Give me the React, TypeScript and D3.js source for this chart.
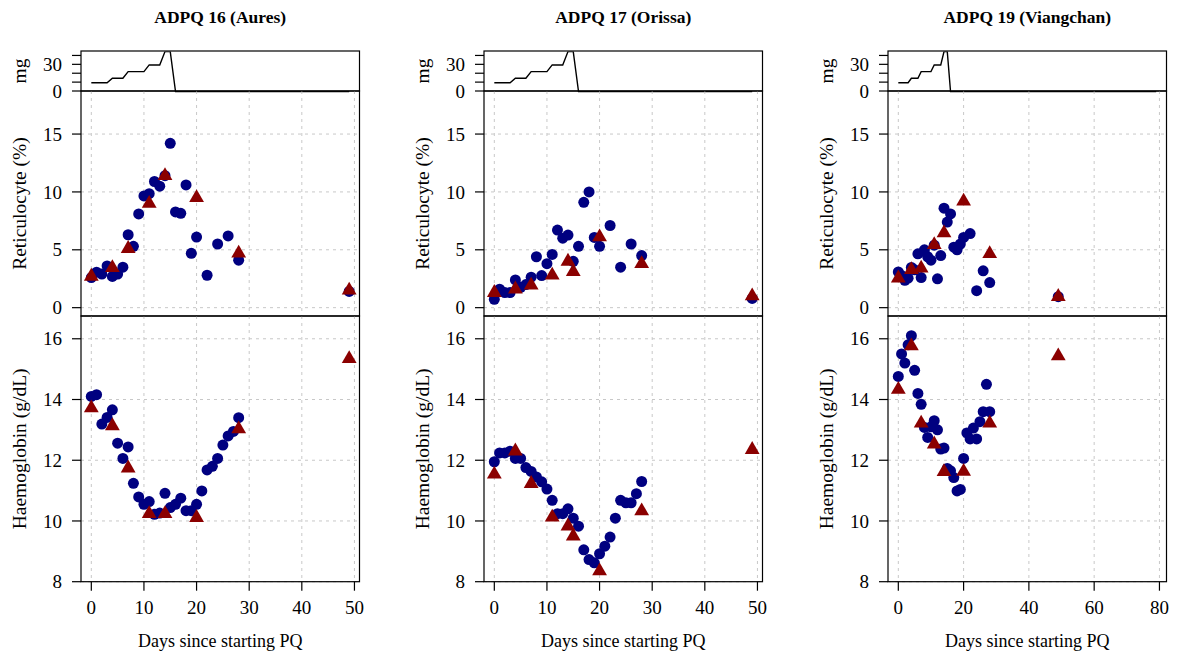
import React from "react";
import * as d3 from "d3";

// ---------- data ----------
const panelTitles = ["ADPQ 16 (Aures)", "ADPQ 17 (Orissa)", "ADPQ 19 (Viangchan)"];
const panelXMax = [49, 49, 79];
const panelXTicks = [
  [0, 10, 20, 30, 40, 50],
  [0, 10, 20, 30, 40, 50],
  [0, 20, 40, 60, 80],
];

// primaquine dose schedule (mg) by day
const doseDays = [0, 1, 2, 3, 4, 5, 6, 7, 8, 9, 10, 11, 12, 13, 14, 15, 16];
const doseMg = [10, 10, 10, 10, 15, 15, 15, 22.5, 22.5, 22.5, 22.5, 30, 30, 30, 45, 45, 0];
const doseTicks = [0, 10, 20, 30, 40];
const doseTickLabels = ["0", "", "", "30", ""];

const reticTicks = [0, 5, 10, 15];
const hbTicks = [8, 10, 12, 14, 16];

// ADPQ 16
const p1RetDays = [0, 1, 2, 3, 4, 5, 6, 7, 8, 9, 10, 11, 12, 13, 14, 15, 16, 17, 18, 19, 20, 22, 24, 26, 28, 49];
const p1RetVals = [2.6, 3.07, 2.9, 3.6, 2.7, 2.9, 3.5, 6.3, 5.3, 8.1, 9.65, 9.85, 10.9, 10.5, 11.4, 14.2, 8.27, 8.15, 10.6, 4.7, 6.1, 2.8, 5.5, 6.2, 4.1, 1.4];
const p1RetTriDays = [0, 4, 7, 11, 14, 20, 28, 49];
const p1RetTriVals = [2.7, 3.45, 5.1, 9.0, 11.4, 9.5, 4.7, 1.5];
const p1HbDays = [0, 1, 2, 3, 4, 5, 6, 7, 8, 9, 10, 11, 12, 13, 14, 15, 16, 17, 18, 19, 20, 21, 22, 23, 24, 25, 26, 27, 28];
const p1HbVals = [14.1, 14.16, 13.19, 13.41, 13.66, 12.56, 12.06, 12.44, 11.24, 10.79, 10.55, 10.64, 10.22, 10.26, 10.91, 10.44, 10.55, 10.75, 10.34, 10.34, 10.55, 10.99, 11.68, 11.8, 12.06, 12.5, 12.8, 12.95, 13.4];
const p1HbTriDays = [0, 4, 7, 11, 14, 20, 28, 49];
const p1HbTriVals = [13.72, 13.13, 11.74, 10.24, 10.24, 10.11, 13.03, 15.34];

// ADPQ 17
const p2RetDays = [0, 1, 2, 3, 4, 5, 6, 7, 8, 9, 10, 11, 12, 13, 14, 15, 16, 17, 18, 19, 20, 22, 24, 26, 28, 49];
const p2RetVals = [0.72, 1.6, 1.3, 1.3, 2.4, 1.76, 2.0, 2.63, 4.4, 2.77, 3.8, 4.6, 6.7, 6.0, 6.27, 4.0, 5.3, 9.1, 10.0, 6.07, 5.3, 7.1, 3.5, 5.5, 4.5, 0.8];
const p2RetTriDays = [0, 4, 7, 11, 14, 15, 20, 28, 49];
const p2RetTriVals = [1.3, 1.6, 1.94, 2.8, 4.0, 3.1, 6.1, 3.8, 1.0];
const p2HbDays = [0, 1, 2, 3, 4, 5, 6, 7, 8, 9, 10, 11, 12, 13, 14, 15, 16, 17, 18, 19, 20, 21, 22, 23, 24, 25, 26, 27, 28];
const p2HbVals = [11.95, 12.24, 12.24, 12.3, 12.06, 12.06, 11.76, 11.63, 11.45, 11.29, 11.05, 10.68, 10.24, 10.24, 10.4, 10.09, 9.83, 9.05, 8.73, 8.62, 8.92, 9.17, 9.47, 10.09, 10.68, 10.6, 10.6, 10.9, 11.3];
const p2HbTriDays = [0, 4, 7, 11, 14, 15, 20, 28, 49];
const p2HbTriVals = [11.54, 12.3, 11.23, 10.12, 9.83, 9.5, 8.35, 10.33, 12.35];

// ADPQ 19
const p3RetDays = [0, 1, 2, 3, 4, 5, 6, 7, 8, 9, 10, 11, 12, 13, 14, 15, 16, 17, 18, 19, 20, 22, 24, 26, 28, 49];
const p3RetVals = [3.09, 2.77, 2.37, 2.55, 3.47, 3.27, 4.65, 2.6, 5.0, 4.4, 4.1, 5.4, 2.49, 4.5, 8.6, 7.4, 8.1, 5.23, 5.0, 5.5, 6.07, 6.4, 1.47, 3.18, 2.17, 0.95];
const p3RetTriDays = [0, 4, 7, 11, 14, 20, 28, 49];
const p3RetTriVals = [2.55, 3.27, 3.4, 5.43, 6.45, 9.2, 4.65, 0.95];
const p3HbDays = [0, 1, 2, 3, 4, 5, 6, 7, 8, 9, 10, 11, 12, 13, 14, 15, 16, 17, 18, 19, 20, 21, 22, 23, 24, 25, 26, 27, 28];
const p3HbVals = [14.76, 15.5, 15.2, 15.8, 16.1, 14.96, 14.2, 13.84, 13.08, 12.75, 13.1, 13.3, 13.0, 12.37, 12.4, 11.73, 11.65, 11.43, 10.99, 11.04, 12.06, 12.9, 12.7, 13.06, 12.7, 13.27, 13.6, 14.5, 13.6];
const p3HbTriDays = [0, 4, 7, 11, 14, 20, 28, 49];
const p3HbTriVals = [14.33, 15.76, 13.22, 12.53, 11.62, 11.63, 13.22, 15.43];

const panels = [
  { retD: p1RetDays, retV: p1RetVals, retTD: p1RetTriDays, retTV: p1RetTriVals, hbD: p1HbDays, hbV: p1HbVals, hbTD: p1HbTriDays, hbTV: p1HbTriVals },
  { retD: p2RetDays, retV: p2RetVals, retTD: p2RetTriDays, retTV: p2RetTriVals, hbD: p2HbDays, hbV: p2HbVals, hbTD: p2HbTriDays, hbTV: p2HbTriVals },
  { retD: p3RetDays, retV: p3RetVals, retTD: p3RetTriDays, retTV: p3RetTriVals, hbD: p3HbDays, hbV: p3HbVals, hbTD: p3HbTriDays, hbTV: p3HbTriVals },
];

// ---------- layout ----------
const W = 1177;
const H = 657;
const lefts = [81, 484, 888];
const boxW = 278.5;
const doseTop = 51;
const doseBot = 91;
const retBot = 316;
const hbBot = 581.7;

const FONT = "'Liberation Serif', 'Times New Roman', serif";
const NAVY = "#000080";
const DARKRED = "#8B0000";
const GRID = "#c8c8c8";
const TICK_FS = 19;
const LAB_FS = 19.5;

const triPath = d3.symbol().type(d3.symbolTriangle).size(95)() as string;

function Panel({ idx }: { idx: number }) {
  const p = panels[idx];
  const L = lefts[idx];
  const R = L + boxW;
  const xMax = panelXMax[idx];
  const pad = xMax * 0.04;
  const x = d3.scaleLinear().domain([-pad, xMax + pad]).range([L, R]);
  const yDose = d3.scaleLinear().domain([0, 45]).range([doseBot, doseTop]);
  const yRet = d3.scaleLinear().domain([-0.72, 18.72]).range([retBot, doseBot]);
  const yHb = d3.scaleLinear().domain([8, 16.75]).range([hbBot, retBot]);
  const ticks = panelXTicks[idx];

  const dDays = [...doseDays, xMax];
  const dMg = [...doseMg, 0];
  const doseLine = d3
    .line<number>()
    .x((_, i) => x(dDays[i]))
    .y((v) => yDose(v))(dMg) as string;

  const clipId = `doseclip${idx}`;
  const labX = L - 55;
  const cx = (L + R) / 2;

  const gridX = (y0: number, y1: number) =>
    ticks.map((t) => (
      <line key={`gx${t}`} x1={x(t)} x2={x(t)} y1={y0} y2={y1} stroke={GRID} strokeDasharray="3,4" strokeWidth={1} />
    ));

  return (
    <g>
      <text x={cx} y={23} textAnchor="middle" fontWeight="bold" fontSize={17.5} fontFamily={FONT}>
        {panelTitles[idx]}
      </text>

      {/* dose panel */}
      <defs>
        <clipPath id={clipId}>
          <rect x={L} y={doseTop} width={boxW} height={doseBot - doseTop + 4} />
        </clipPath>
      </defs>
      <rect x={L} y={doseTop} width={boxW} height={doseBot - doseTop} fill="none" stroke="#000" strokeWidth={1.2} />
      <path d={doseLine} fill="none" stroke="#000" strokeWidth={1.4} clipPath={`url(#${clipId})`} transform="translate(0,0.6)" />
      {doseTicks.map((t, i) => (
        <g key={`dt${t}`}>
          <line x1={L - 9} x2={L} y1={yDose(t)} y2={yDose(t)} stroke="#000" strokeWidth={1.2} />
          {doseTickLabels[i] && (
            <text x={L - 19} y={yDose(t)} dy="0.35em" textAnchor="end" fontSize={TICK_FS} fontFamily={FONT}>
              {doseTickLabels[i]}
            </text>
          )}
        </g>
      ))}
      <text transform={`translate(${labX},${(doseTop + doseBot) / 2}) rotate(-90)`} textAnchor="middle" fontSize={LAB_FS} fontFamily={FONT}>
        mg
      </text>

      {/* reticulocyte panel */}
      {gridX(doseBot, retBot)}
      {reticTicks.map((t) => (
        <line key={`gr${t}`} x1={L} x2={R} y1={yRet(t)} y2={yRet(t)} stroke={GRID} strokeDasharray="3,4" strokeWidth={1} />
      ))}
      {p.retD.map((d, i) => (
        <circle key={`rc${i}`} cx={x(d)} cy={yRet(p.retV[i])} r={5.5} fill={NAVY} />
      ))}
      {p.retTD.map((d, i) => (
        <path key={`rt${i}`} d={triPath} transform={`translate(${x(d)},${yRet(p.retTV[i])})`} fill={DARKRED} />
      ))}
      <rect x={L} y={doseBot} width={boxW} height={retBot - doseBot} fill="none" stroke="#000" strokeWidth={1.2} />
      {reticTicks.map((t) => (
        <g key={`rtk${t}`}>
          <line x1={L - 9} x2={L} y1={yRet(t)} y2={yRet(t)} stroke="#000" strokeWidth={1.2} />
          <text x={L - 19} y={yRet(t)} dy="0.35em" textAnchor="end" fontSize={TICK_FS} fontFamily={FONT}>
            {t}
          </text>
        </g>
      ))}
      <text transform={`translate(${labX},${(doseBot + retBot) / 2}) rotate(-90)`} textAnchor="middle" fontSize={LAB_FS} fontFamily={FONT}>
        Reticulocyte (%)
      </text>

      {/* haemoglobin panel */}
      {gridX(retBot, hbBot)}
      {hbTicks.map((t) => (
        <line key={`gh${t}`} x1={L} x2={R} y1={yHb(t)} y2={yHb(t)} stroke={GRID} strokeDasharray="3,4" strokeWidth={1} />
      ))}
      {p.hbD.map((d, i) => (
        <circle key={`hc${i}`} cx={x(d)} cy={yHb(p.hbV[i])} r={5.5} fill={NAVY} />
      ))}
      {p.hbTD.map((d, i) => (
        <path key={`ht${i}`} d={triPath} transform={`translate(${x(d)},${yHb(p.hbTV[i])})`} fill={DARKRED} />
      ))}
      <rect x={L} y={retBot} width={boxW} height={hbBot - retBot} fill="none" stroke="#000" strokeWidth={1.2} />
      {hbTicks.map((t) => (
        <g key={`htk${t}`}>
          <line x1={L - 9} x2={L} y1={yHb(t)} y2={yHb(t)} stroke="#000" strokeWidth={1.2} />
          <text x={L - 19} y={yHb(t)} dy="0.35em" textAnchor="end" fontSize={TICK_FS} fontFamily={FONT}>
            {t}
          </text>
        </g>
      ))}
      <text transform={`translate(${labX},${(retBot + hbBot) / 2}) rotate(-90)`} textAnchor="middle" fontSize={LAB_FS} fontFamily={FONT}>
        Haemoglobin (g/dL)
      </text>

      {/* x axis */}
      {ticks.map((t) => (
        <g key={`xt${t}`}>
          <line x1={x(t)} x2={x(t)} y1={hbBot} y2={hbBot + 9} stroke="#000" strokeWidth={1.2} />
          <text x={x(t)} y={614} textAnchor="middle" fontSize={TICK_FS} fontFamily={FONT}>
            {t}
          </text>
        </g>
      ))}
      <text x={cx} y={647} textAnchor="middle" fontSize={18} fontFamily={FONT}>
        Days since starting PQ
      </text>
    </g>
  );
}

export default function App() {
  return (
    <svg width={W} height={H} style={{ display: "block", position: "absolute", left: 0, top: 0, background: "#fff" }}>
      <rect x={0} y={0} width={W} height={H} fill="#fff" />
      {[0, 1, 2].map((i) => (
        <Panel key={i} idx={i} />
      ))}
    </svg>
  );
}
